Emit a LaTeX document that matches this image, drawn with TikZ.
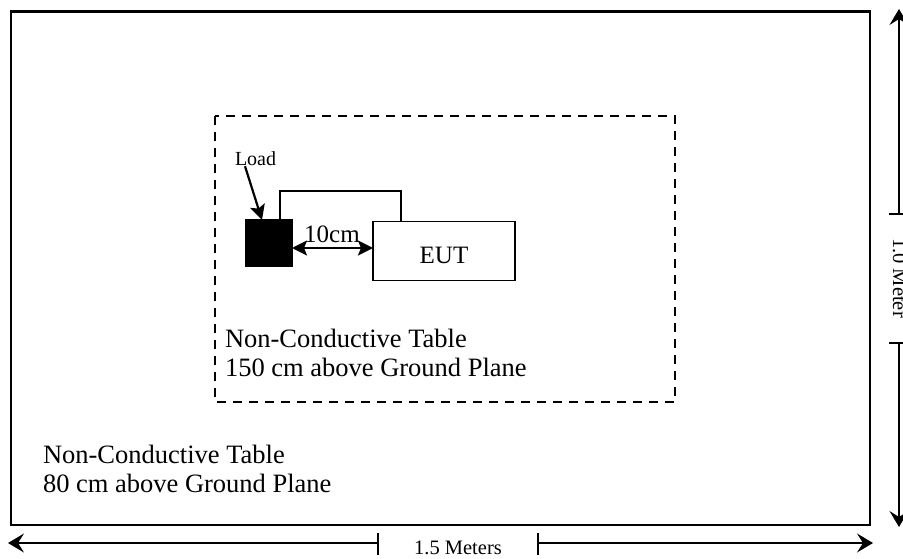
\documentclass[tikz,border=0pt]{standalone}
\usepackage{fontspec}
\setmainfont{Liberation Serif}
\usetikzlibrary{arrows.meta}

\begin{document}
\begin{tikzpicture}[x=1pt,y=-1pt]
\tikzset{%
  >={Stealth[length=15pt,width=15pt,inset=3pt]}, % arrows inside the table
  inner sep=0pt,%
  outer sep=0pt,%
  table edge/.style={line width=2.8pt},%
  table dashed/.style={line width=2.5pt,dash pattern=on 9pt off 7pt},%
  box/.style={draw,line width=1.3pt},%
  wire/.style={line width=1.3pt},%
  big text/.style={font=\fontsize{25}{28}\selectfont},%
  table text/.style={font=\fontsize{26.5}{29}\selectfont},%
  small text/.style={font=\fontsize{20.5}{24}\selectfont},%
  dim arrow/.style={line width=1.2pt,-{Stealth[length=16pt,width=19pt,inset=6pt]}},%
  dim tick/.style={line width=1.2pt}%
}
%% page size

\useasboundingbox (0,0) rectangle (903,559);

%% tables

\draw[table edge] (11,11.5) rectangle (870,525); % 80 cm table
\draw[table dashed] (215,116) rectangle (675,402); % 150 cm table

%% load and EUT

\node[box,fill=black,minimum width=46,minimum height=46] (load) at (269,243) {};
\node[box,minimum width=142,minimum height=59,text height=24pt,text depth=0pt,
      big text] (eut) at (444,251) {EUT};
\draw[wire] ([xshift=-12pt]load.north east) -- ++(0,-29) -| ([xshift=28pt]eut.north west);

\draw[<->,line width=2.5pt] ([yshift=-5pt]load.east) coordinate (gap) -- (gap -| eut.west);
\node[big text,anchor=base] (gaplbl) at (332,242.7) {10cm};

\node[font=\fontsize{20}{24}\selectfont,anchor=base west] (loadlbl) at (235,166) {Load};
\draw[->,line width=2.2pt] ([xshift=10pt]loadlbl.south west) -- ([xshift=16pt]load.north west);

%% table labels

\node[table text,anchor=north west,align=left] (upper) at (225,329)
    {Non-Conductive Table\\150 cm above Ground Plane};
\node[table text,anchor=north west,align=left] (lower) at (43,445)
    {Non-Conductive Table\\80 cm above Ground Plane};

%% width

\coordinate (wl) at (378,543);
\coordinate (wr) at (538,543);
\coordinate (wlend) at (8,543);
\coordinate (wrend) at (873,543);
\draw[dim arrow] (wl) -- (wlend);
\draw[dim arrow] (wr) -- (wrend);
\draw[dim tick] ([yshift=10pt]wl) -- ([yshift=-12pt]wl);
\draw[dim tick] ([yshift=10pt]wr) -- ([yshift=-12pt]wr);
\node[small text,anchor=base] (wlbl) at (458,554) {1.5 Meters};

%% depth

\coordinate (ht) at (899,214);
\coordinate (hb) at (899,343);
\coordinate (htend) at (899,9);
\coordinate (hbend) at (899,527);
\draw[dim arrow] (ht) -- (htend);
\draw[dim arrow] (hb) -- (hbend);
\draw[dim tick] ([xshift=-10pt]ht) -- ([xshift=10pt]ht);
\draw[dim tick] ([xshift=-10pt]hb) -- ([xshift=10pt]hb);
\node[small text,anchor=base,rotate=-90] (hlbl) at (893,278) {1.0 Meter};
\end{tikzpicture}
\end{document}
